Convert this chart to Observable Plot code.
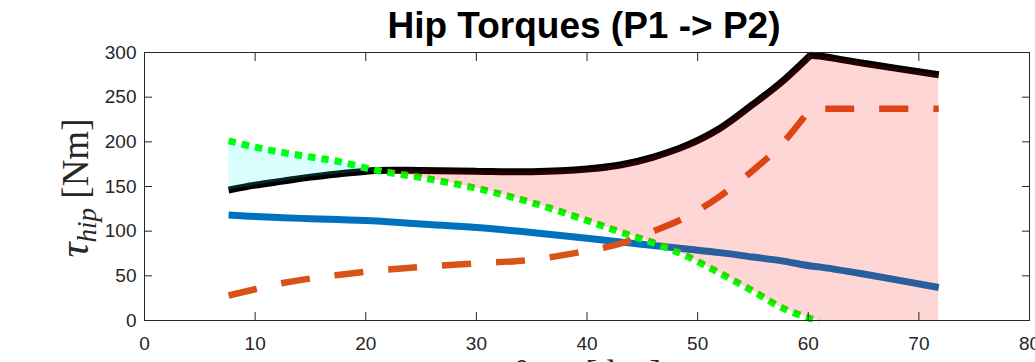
<!DOCTYPE html>
<html>
<head>
<meta charset="utf-8">
<script src="https://cdn.jsdelivr.net/npm/d3@7"></script>
<script src="https://cdn.jsdelivr.net/npm/@observablehq/plot@0.6"></script>
<style>
  html, body { margin: 0; padding: 0; background: #fff; overflow: hidden; }
  #chart { position: relative; width: 1035px; height: 362px; overflow: hidden; }
</style>
</head>
<body>
<div id="chart"></div>
<script>
// Knee angle samples [deg]
const kneeAngle = [7.6, 10, 12.5, 15, 17.5, 21, 25, 30, 35, 40, 43, 46, 49, 52, 55, 57.5, 60.2, 61, 65, 71.8];
// Solid blue series [Nm]
const blueTorque = [118, 116.5, 115, 114, 113, 111.5, 108, 104, 98.5, 92, 88, 84, 80, 76, 71, 67, 61, 60, 52, 37];
// Dashed orange series [Nm]
const orangeTorque = [28, 35, 42, 47, 51, 56, 60, 64, 68, 78, 86, 100, 116, 139, 168, 196, 237, 237, 237, 237];
// Thick black series (total) [Nm]
const totalTorque = [146, 151.5, 156, 160.5, 164, 168, 168, 167, 166.5, 169.5, 174, 183, 196, 215, 242, 266, 297, 296, 288, 275];
// Green dotted series [Nm]
const greenTorque = [201, 194, 188, 183, 178, 168, 160, 148, 132, 112, 99, 87, 72, 53, 33, 15, 2.2, 0, 0, 0];

const xTicks = [0, 10, 20, 30, 40, 50, 60, 70, 80];
const yTicks = [0, 50, 100, 150, 200, 250, 300];
const crossX = 21;     // where green meets black
const cornerX = 60.2;  // kink of black & orange
const greenEndX = 61;

const rows = kneeAngle.map((x, i) => ({
  x, blue: blueTorque[i], orange: orangeTorque[i], total: totalTorque[i], green: greenTorque[i]
}));
// duplicate the kink point so catmull-rom keeps a sharp corner there
const rowsK = rows.flatMap(d => d.x === cornerX ? [d, d] : [d]);

const chart = Plot.plot({
  width: 1035,
  height: 362,
  marginLeft: 144,
  marginRight: 6,
  marginTop: 52,
  marginBottom: 42,
  x: { domain: [0, 80] },
  y: { domain: [0, 300] },
  style: { background: "#fff", color: "#262626", fontFamily: "'Liberation Sans', Arial, sans-serif" },
  marks: [
    Plot.line(rows, { x: "x", y: "blue", stroke: "#0072bd", strokeWidth: 7, curve: "catmull-rom", strokeLinecap: "butt" }),
    Plot.line(rowsK, { x: "x", y: "orange", stroke: "#d95319", strokeWidth: 6.5, curve: "catmull-rom",
      strokeDasharray: "29,25", strokeLinecap: "butt" }),
    Plot.line(rowsK, { x: "x", y: "total", stroke: "#000", strokeWidth: 7, curve: "catmull-rom",
      strokeLinecap: "butt", strokeLinejoin: "miter" }),
    Plot.line(rows.filter(d => d.x <= greenEndX), { x: "x", y: "green", stroke: "#00ff00", strokeWidth: 7,
      curve: "catmull-rom", strokeDasharray: "7.5,6", strokeLinecap: "butt" }),
    Plot.areaY(rows.filter(d => d.x <= crossX), { x: "x", y1: "total", y2: "green", fill: "#00ffff",
      fillOpacity: 0.15, curve: "catmull-rom", clip: true }),
    Plot.areaY(rowsK.filter(d => d.x >= crossX), { x: "x", y1: "green", y2: "total", fill: "#ff0000",
      fillOpacity: 0.16, curve: "catmull-rom", clip: true }),
    Plot.frame({ stroke: "#262626", strokeWidth: 1 }),
    // labelled axes
    Plot.axisX({ ticks: xTicks, tickSize: 0, tickPadding: 16, fontSize: 19, label: null }),
    Plot.axisY({ ticks: yTicks, tickSize: 0, tickPadding: 8, fontSize: 19, label: null }),
    // inward tick marks on all four sides
    Plot.axisX({ ticks: xTicks, anchor: "bottom", tickSize: -8, tickFormat: () => "", label: null }),
    Plot.axisX({ ticks: xTicks, anchor: "top", tickSize: -8, tickFormat: () => "", label: null }),
    Plot.axisY({ ticks: yTicks, anchor: "left", tickSize: -8, tickFormat: () => "", label: null }),
    Plot.axisY({ ticks: yTicks, anchor: "right", tickSize: -8, tickFormat: () => "", label: null })
  ]
});

document.getElementById("chart").appendChild(chart);

const svg = d3.select(chart);
// Title
svg.append("text")
  .attr("x", 584).attr("y", 38)
  .attr("text-anchor", "middle")
  .attr("font-family", "'Liberation Sans', Arial, sans-serif")
  .attr("font-weight", "bold")
  .attr("font-size", 37)
  .attr("fill", "#000")
  .text("Hip Torques (P1 -> P2)");

// Y label (LaTeX-like)
const yl = svg.append("text")
  .attr("transform", "translate(88,188) rotate(-90)")
  .attr("text-anchor", "middle")
  .attr("font-family", "'Liberation Serif', 'Times New Roman', serif")
  .attr("font-size", 37)
  .attr("fill", "#262626");
yl.append("tspan").attr("font-style", "italic").attr("font-size", 42).text("τ");
yl.append("tspan").attr("font-style", "italic").attr("font-size", 27).attr("dy", 8).text("hip");
yl.append("tspan").attr("dy", -8).text(" [Nm]");

// X label (mostly below the visible area)
const xl = svg.append("text")
  .attr("x", 586).attr("y", 385)
  .attr("text-anchor", "middle")
  .attr("font-family", "'Liberation Serif', 'Times New Roman', serif")
  .attr("font-size", 36)
  .attr("fill", "#262626");
xl.append("tspan").attr("font-style", "italic").text("θ");
xl.append("tspan").attr("font-style", "italic").attr("font-size", 26).attr("dy", 8).text("knee");
xl.append("tspan").attr("dy", -8).text(" [deg]");
</script>
</body>
</html>
